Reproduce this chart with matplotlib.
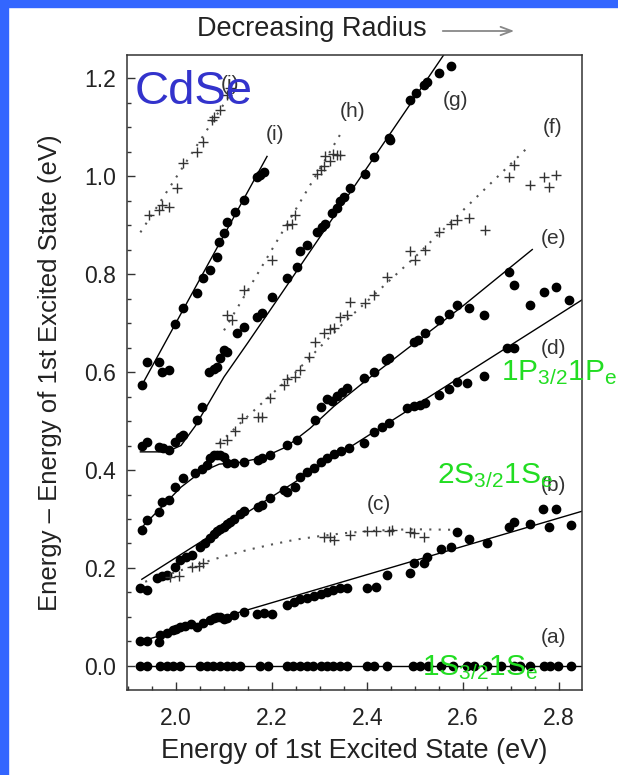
import matplotlib
matplotlib.use("Agg")
import matplotlib.pyplot as plt
from matplotlib.ticker import MultipleLocator
from matplotlib.patches import Rectangle

plt.rcParams['font.family'] = ['Liberation Sans', 'DejaVu Sans']
plt.rcParams['mathtext.fontset'] = 'custom'
plt.rcParams['mathtext.rm'] = 'Liberation Sans'
plt.rcParams['mathtext.it'] = 'Liberation Sans'
plt.rcParams['mathtext.bf'] = 'Liberation Sans:bold'

# ---------------- data ----------------
# (a) 1S3/2 1Se reference transition
a_x = [1.925, 1.939, 1.966, 1.981, 1.994, 2.008, 2.050, 2.065, 2.077, 2.092, 2.107,
       2.119, 2.134, 2.176, 2.191, 2.232, 2.245, 2.260, 2.274, 2.287, 2.302, 2.316,
       2.329, 2.343, 2.358, 2.400, 2.413, 2.442, 2.496, 2.511, 2.526, 2.553, 2.580,
       2.609, 2.622, 2.651, 2.679, 2.706, 2.720, 2.741, 2.769, 2.783, 2.798, 2.825]
a_y = [0.0] * len(a_x)
a_line_x = [1.92, 2.85]
a_line_y = [0.0, 0.0]

# (b)
b_x = [1.925, 1.939, 1.963, 1.966, 1.981, 1.994, 2.000, 2.008, 2.019, 2.030, 2.043,
       2.057, 2.071, 2.078, 2.085, 2.092, 2.100, 2.106, 2.120, 2.141, 2.169, 2.183,
       2.200, 2.232, 2.246, 2.260, 2.274, 2.288, 2.302, 2.316, 2.329, 2.343, 2.357,
       2.399, 2.417, 2.441, 2.490, 2.497, 2.518, 2.525, 2.553, 2.574, 2.588, 2.612,
       2.651, 2.696, 2.706, 2.741, 2.767, 2.780, 2.794, 2.825]
b_y = [0.050, 0.052, 0.048, 0.063, 0.067, 0.073, 0.075, 0.079, 0.082, 0.085, 0.080,
       0.087, 0.094, 0.097, 0.100, 0.099, 0.095, 0.097, 0.104, 0.111, 0.107, 0.109,
       0.106, 0.124, 0.131, 0.136, 0.139, 0.143, 0.147, 0.152, 0.155, 0.159, 0.159,
       0.159, 0.162, 0.186, 0.189, 0.210, 0.210, 0.223, 0.238, 0.243, 0.274, 0.260,
       0.252, 0.283, 0.294, 0.290, 0.320, 0.284, 0.320, 0.288]
b_line_x = [1.925, 2.86]
b_line_y = [0.050, 0.319]

# (c)
c_x = [1.987, 2.005, 2.033, 2.047, 2.057, 2.309, 2.322, 2.330, 2.364, 2.399, 2.417,
       2.445, 2.452, 2.490, 2.497, 2.518]
c_y = [0.181, 0.184, 0.203, 0.204, 0.210, 0.263, 0.263, 0.258, 0.267, 0.276, 0.276,
       0.276, 0.278, 0.274, 0.271, 0.264]
c_line_x = [1.935, 2.00, 2.05, 2.10, 2.15, 2.20, 2.25, 2.30, 2.35, 2.40, 2.45, 2.50, 2.58]
c_line_y = [0.172, 0.192, 0.209, 0.224, 0.237, 0.248, 0.258, 0.265, 0.271, 0.275,
            0.278, 0.279, 0.278]

# (d)
d_x = [1.925, 1.939, 1.960, 1.970, 1.981, 1.998, 2.008, 2.020, 2.033, 2.050, 2.061,
       2.071, 2.078, 2.085, 2.092, 2.099, 2.106, 2.113, 2.120, 2.134, 2.141, 2.172,
       2.180, 2.197, 2.225, 2.232, 2.249, 2.260, 2.274, 2.288, 2.302, 2.316, 2.330,
       2.345, 2.361, 2.392, 2.413, 2.430, 2.445, 2.483, 2.497, 2.510, 2.521, 2.549,
       2.570, 2.588, 2.609, 2.644, 2.693, 2.706]
d_y = [0.159, 0.155, 0.180, 0.183, 0.186, 0.203, 0.216, 0.222, 0.227, 0.243, 0.250,
       0.262, 0.270, 0.275, 0.280, 0.284, 0.289, 0.294, 0.300, 0.310, 0.316, 0.325,
       0.329, 0.342, 0.359, 0.355, 0.366, 0.386, 0.396, 0.404, 0.417, 0.425, 0.432,
       0.438, 0.444, 0.455, 0.478, 0.488, 0.495, 0.527, 0.530, 0.533, 0.537, 0.553,
       0.565, 0.580, 0.577, 0.592, 0.648, 0.648]
d_line_x = [1.928, 2.86]
d_line_y = [0.177, 0.754]

# (e)
e_x = [1.928, 1.939, 1.963, 1.970, 1.984, 1.998, 2.015, 2.040, 2.054, 2.064, 2.070,
       2.078, 2.085, 2.092, 2.100, 2.106, 2.120, 2.141, 2.172, 2.180, 2.197, 2.232,
       2.253, 2.291, 2.302, 2.316, 2.325, 2.336, 2.347, 2.357, 2.392, 2.413, 2.438,
       2.445, 2.497, 2.505, 2.521, 2.549, 2.570, 2.588, 2.612, 2.644, 2.696, 2.706,
       2.741, 2.769, 2.794, 2.822]
e_y = [0.278, 0.298, 0.315, 0.335, 0.339, 0.366, 0.383, 0.393, 0.403, 0.410, 0.425,
       0.431, 0.431, 0.431, 0.427, 0.414, 0.414, 0.417, 0.420, 0.425, 0.430, 0.451,
       0.461, 0.502, 0.529, 0.545, 0.540, 0.552, 0.560, 0.567, 0.588, 0.600, 0.624,
       0.629, 0.661, 0.665, 0.680, 0.706, 0.718, 0.737, 0.730, 0.716, 0.804, 0.778,
       0.737, 0.764, 0.774, 0.747]
e_line_x = [1.93, 1.97, 2.01, 2.05, 2.09, 2.13, 2.18, 2.23, 2.28, 2.33, 2.40, 2.50,
            2.60, 2.745]
e_line_y = [0.285, 0.325, 0.365, 0.395, 0.412, 0.415, 0.425, 0.447, 0.485, 0.530,
            0.585, 0.660, 0.735, 0.850]

# (f)
f_x = [2.092, 2.106, 2.124, 2.138, 2.172, 2.180, 2.197, 2.225, 2.232, 2.249, 2.260,
       2.277, 2.291, 2.309, 2.322, 2.330, 2.343, 2.357, 2.364, 2.396, 2.413, 2.441,
       2.490, 2.500, 2.521, 2.549, 2.574, 2.588, 2.612, 2.647, 2.696, 2.706, 2.741,
       2.769, 2.780, 2.794]
f_y = [0.455, 0.462, 0.479, 0.506, 0.509, 0.509, 0.546, 0.574, 0.585, 0.590, 0.605,
       0.631, 0.662, 0.680, 0.687, 0.690, 0.713, 0.717, 0.743, 0.741, 0.757, 0.794,
       0.846, 0.829, 0.850, 0.886, 0.903, 0.910, 0.914, 0.890, 0.999, 1.022, 0.982,
       0.999, 0.978, 1.002]
f_line_x = [2.09, 2.15, 2.20, 2.25, 2.30, 2.35, 2.40, 2.50, 2.60, 2.734]
f_line_y = [0.455, 0.510, 0.555, 0.600, 0.650, 0.700, 0.745, 0.835, 0.930, 1.057]

# (g)
g_x = [1.928, 1.939, 1.963, 1.973, 1.984, 1.998, 2.008, 2.015, 2.043, 2.054, 2.068,
       2.078, 2.085, 2.092, 2.099, 2.106, 2.127, 2.141, 2.169, 2.180, 2.200, 2.232,
       2.253, 2.260, 2.274, 2.295, 2.305, 2.312, 2.326, 2.336, 2.343, 2.350, 2.364,
       2.396, 2.413, 2.445, 2.448, 2.490, 2.501, 2.518, 2.525, 2.549, 2.574]
g_y = [0.448, 0.458, 0.447, 0.445, 0.440, 0.458, 0.468, 0.471, 0.502, 0.529, 0.600,
       0.606, 0.610, 0.629, 0.645, 0.640, 0.680, 0.692, 0.713, 0.720, 0.754, 0.791,
       0.815, 0.846, 0.859, 0.886, 0.895, 0.903, 0.924, 0.935, 0.950, 0.958, 0.975,
       1.005, 1.039, 1.078, 1.073, 1.155, 1.169, 1.186, 1.192, 1.210, 1.224]
g_line_x = [1.925, 1.980, 2.010, 2.040, 2.070, 2.100, 2.150, 2.211, 2.570]
g_line_y = [0.437, 0.437, 0.450, 0.490, 0.540, 0.590, 0.660, 0.747, 1.262]

# (h)
h_x = [2.106, 2.117, 2.141, 2.200, 2.232, 2.242, 2.249, 2.295, 2.302, 2.309, 2.312,
       2.322, 2.329, 2.336, 2.343]
h_y = [0.716, 0.706, 0.767, 0.829, 0.900, 0.903, 0.920, 1.005, 1.012, 1.020, 1.040,
       1.030, 1.045, 1.043, 1.043]
h_line_x = [2.100, 2.345]
h_line_y = [0.685, 1.088]

# (i)
i_x = [1.928, 1.939, 1.963, 1.970, 1.984, 1.998, 2.015, 2.043, 2.057, 2.071, 2.085,
       2.089, 2.099, 2.106, 2.124, 2.141, 2.169, 2.176, 2.183]
i_y = [0.573, 0.621, 0.621, 0.600, 0.604, 0.699, 0.730, 0.761, 0.791, 0.808, 0.835,
       0.866, 0.883, 0.906, 0.927, 0.951, 0.999, 1.003, 1.008]
i_line_x = [1.928, 2.190]
i_line_y = [0.573, 1.040]

# (j)
j_x = [1.942, 1.963, 1.970, 1.984, 2.001, 2.015, 2.043, 2.057, 2.075, 2.078, 2.092,
       2.106, 2.113]
j_y = [0.920, 0.931, 0.941, 0.936, 0.975, 1.026, 1.050, 1.069, 1.114, 1.120, 1.135,
       1.165, 1.180]
j_line_x = [1.925, 2.115]
j_line_y = [0.885, 1.170]

curve_labels = ['(a)', '(b)', '(c)', '(d)', '(e)', '(f)', '(g)', '(h)', '(i)', '(j)']
label_x = [2.790, 2.790, 2.423, 2.790, 2.790, 2.787, 2.584, 2.368, 2.207, 2.113]
label_y = [0.059, 0.369, 0.329, 0.649, 0.873, 1.100, 1.155, 1.131, 1.084, 1.186]

# ---------------- figure ----------------
fig = plt.figure(figsize=(6.18, 7.75), dpi=100)
fig.patches.append(Rectangle((0, 1 - 7 / 775), 1, 7 / 775, transform=fig.transFigure,
                             color='#3366ff', zorder=0))
fig.patches.append(Rectangle((0, 0), 8 / 618, 1, transform=fig.transFigure,
                             color='#3366ff', zorder=0))

ax = fig.add_axes([127 / 618, 85 / 775, 455 / 618, 635 / 775])

dot_kw = dict(linestyle='none', marker='o', ms=6.0, color='black', zorder=3)
cross_kw = dict(linestyle='none', marker='+', ms=7.5, mew=1.0, color='#333333', zorder=3)
solid_kw = dict(color='black', lw=1.0, zorder=2)
dotted_kw = dict(color='#555555', lw=1.5, linestyle=(0, (1, 3.5)), zorder=2)

# solid guide lines with filled dots
for lx, ly, px, py in [(a_line_x, a_line_y, a_x, a_y),
                       (b_line_x, b_line_y, b_x, b_y),
                       (d_line_x, d_line_y, d_x, d_y),
                       (e_line_x, e_line_y, e_x, e_y),
                       (g_line_x, g_line_y, g_x, g_y),
                       (i_line_x, i_line_y, i_x, i_y)]:
    ax.plot(lx, ly, **solid_kw)
    ax.plot(px, py, **dot_kw)

# dotted guide lines with crosses
for lx, ly, px, py in [(c_line_x, c_line_y, c_x, c_y),
                       (f_line_x, f_line_y, f_x, f_y),
                       (h_line_x, h_line_y, h_x, h_y),
                       (j_line_x, j_line_y, j_x, j_y)]:
    ax.plot(lx, ly, **dotted_kw)
    ax.plot(px, py, **cross_kw)

for lab, lx, ly in zip(curve_labels, label_x, label_y):
    ax.text(lx, ly, lab, fontsize=15, color='#333333', ha='center', va='center', zorder=4)

ax.set_xlim(1.897, 2.849)
ax.set_ylim(-0.049, 1.247)
ax.xaxis.set_major_locator(MultipleLocator(0.2))
ax.xaxis.set_minor_locator(MultipleLocator(0.05))
ax.yaxis.set_major_locator(MultipleLocator(0.2))
ax.yaxis.set_minor_locator(MultipleLocator(0.05))
ax.tick_params(which='both', direction='in', colors='#333333', labelcolor='#222222')
ax.tick_params(which='major', length=6, width=1.0, labelsize=16.5)
ax.tick_params(axis='x', which='major', pad=12)
ax.tick_params(axis='y', which='major', pad=8)
ax.tick_params(which='minor', length=3, width=1.0)
for s in ax.spines.values():
    s.set_color('#333333')
    s.set_linewidth(1.1)

ax.set_xlabel('Energy of 1st Excited State (eV)', fontsize=19.5, color='#222222', labelpad=6)
ax.set_ylabel('Energy \u2013 Energy of 1st Excited State (eV)', fontsize=18.5,
              color='#222222', labelpad=16)

# header arrow
fig.text(197 / 618, 1 - 36 / 775, 'Decreasing Radius', fontsize=19.5, color='#222222',
         va='baseline', ha='left')
ax.annotate('', xy=(517 / 618, 1 - 31 / 775), xytext=(440 / 618, 1 - 31 / 775),
            xycoords='figure fraction', textcoords='figure fraction',
            arrowprops=dict(arrowstyle='->,head_length=0.8,head_width=0.3',
                            color='#888888', lw=1.3))

# material and transition labels
fig.text(135 / 618, 1 - 104 / 775, 'CdSe', fontsize=34, color='#3333cc', zorder=10)
green = '#22dd22'
ax.text(2.679, 0.584, '1P$_{3/2}$1P$_{e}$', fontsize=21.5, color=green, clip_on=False, zorder=6)
ax.text(2.545, 0.373, '2S$_{3/2}$1S$_{e}$', fontsize=21.5, color=green, clip_on=False, zorder=6)
ax.text(2.515, -0.018, '1S$_{3/2}$1S$_{e}$', fontsize=21.5, color=green, clip_on=False, zorder=6)

fig.savefig('out.png', dpi=100)
